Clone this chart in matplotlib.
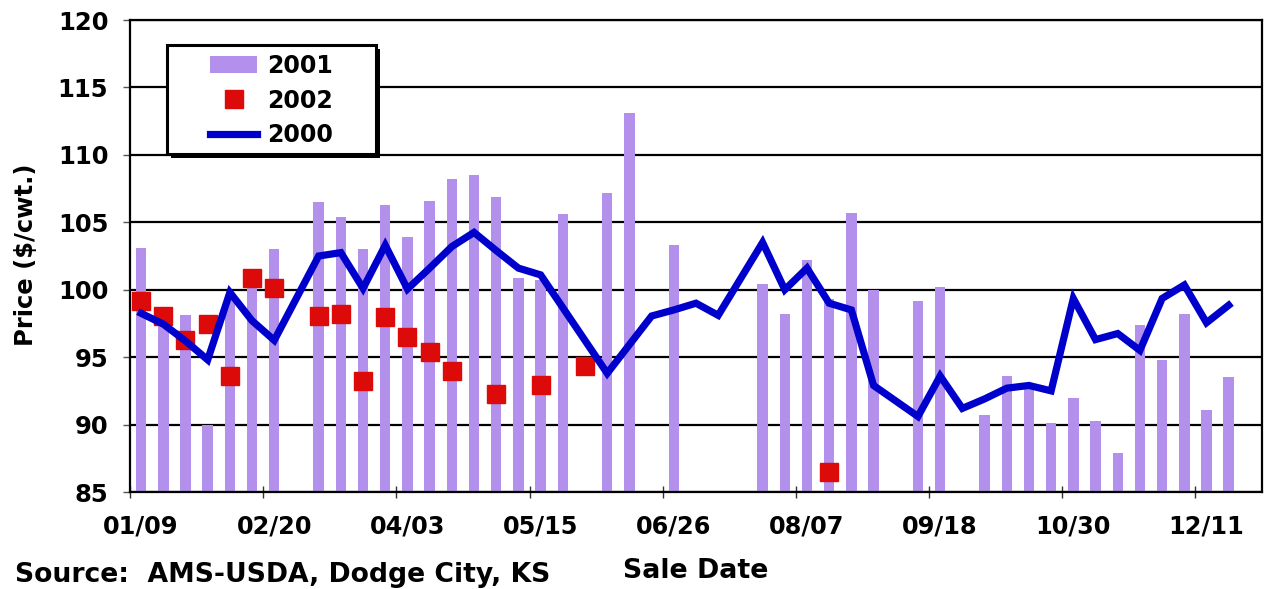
import numpy as np
import matplotlib
matplotlib.use("Agg")
import matplotlib.pyplot as plt
from matplotlib.patches import Patch, Rectangle
from matplotlib.lines import Line2D

nan = np.nan

# ---- data (weekly sale dates, 51 categories) ----
tick_labels = ["01/09", "02/20", "04/03", "05/15", "06/26", "08/07", "09/18", "10/30", "12/11"]

price_2001 = [103.1, 97.5, 98.1, 90.0, 99.6, 100.6, 103.0, nan, 106.5, 105.4,
              103.0, 106.3, 103.9, 106.6, 108.2, 108.5, 106.9, 100.9, 100.7, 105.6,
              nan, 107.2, 113.1, nan, 103.3, nan, nan, nan, 100.4, 98.2,
              102.2, 99.3, 105.7, 100.0, nan, 99.2, 100.2, nan, 90.7, 93.6,
              92.7, 90.1, 92.0, 90.3, 87.9, 97.4, 94.8, 98.2, 91.1, 93.5,
              nan]

price_2002 = [99.2, 98.05, 96.25, 97.45, 93.6, 100.85, 100.1, nan, 98.05, 98.2,
              93.2, 98.0, 96.5, 95.4, 94.0, nan, 92.25, nan, 92.95, nan,
              94.35, nan, nan, nan, nan, nan, nan, nan, nan, nan,
              nan, 86.5, nan, nan, nan, nan, nan, nan, nan, nan,
              nan, nan, nan, nan, nan, nan, nan, nan, nan, nan,
              nan]

price_2000 = [98.25, 97.45, 96.2, 94.8, 99.8, 97.7, 96.25, nan, 102.5, 102.75,
              100.1, 103.3, 100.05, 101.6, 103.2, 104.25, 102.9, 101.6, 101.1, nan,
              nan, 93.8, nan, 98.05, 98.5, 99.0, 98.1, nan, 103.5, 100.0,
              101.6, 99.0, 98.5, 92.9, nan, 90.6, 93.6, 91.2, 91.9, 92.7,
              92.9, 92.5, 99.35, 96.3, 96.75, 95.5, 99.35, 100.35, 97.55, 98.85,
              nan]

series_names = ["2001", "2002", "2000"]

# ---- styling ----
BAR_C = "#B290EB"
RED_C = "#DD0A0A"
BLUE_C = "#0000CC"
FONT = "DejaVu Sans"

W, H = 1265, 589
fig = plt.figure(figsize=(W / 100, H / 100), dpi=100)
ax = fig.add_axes([130 / W, 1 - 492 / H, (1262 - 130) / W, (492 - 20) / H])

n = len(price_2001)
x = np.arange(n)
y01 = np.array(price_2001, dtype=float)
y02 = np.array(price_2002, dtype=float)
y00 = np.array(price_2000, dtype=float)

ax.bar(x, np.nan_to_num(y01, nan=0.0), width=0.47, color=BAR_C, zorder=2)
m00 = ~np.isnan(y00)
ax.plot(x[m00], y00[m00], color=BLUE_C, lw=5.2, zorder=4, solid_joinstyle="miter")
m02 = ~np.isnan(y02)
ax.plot(x[m02], y02[m02], ls="none", marker="s", markersize=12.5,
        color=RED_C, zorder=3)

ax.set_xlim(-0.5, n - 0.5)
ax.set_ylim(85, 120)
ax.set_yticks(np.arange(85, 121, 5))
ax.yaxis.grid(True, color="black", lw=1.6, zorder=0)
ax.set_axisbelow(True)

for s in ["left", "bottom", "right", "top"]:
    ax.spines[s].set_color("black")
    ax.spines[s].set_linewidth(1.6)

# x ticks: marks at category boundaries, labels centred on categories
ax.set_xticks(np.arange(-0.5, n, 6))
ax.set_xticklabels([])
ax.set_xticks(np.arange(0, n, 6)[:len(tick_labels)], minor=True)
ax.set_xticklabels(tick_labels, minor=True, fontsize=17.3, fontweight="bold",
                   family=FONT)
ax.tick_params(axis="x", which="major", direction="inout", length=8.6, width=1,
               color="#333333")
ax.tick_params(axis="x", which="minor", length=0, pad=16)
ax.tick_params(axis="y", direction="out", length=5, width=1, color="#555555",
               pad=10.6, labelsize=17.5)
for lab in ax.get_yticklabels():
    lab.set_fontweight("bold")
    lab.set_family(FONT)

ax.set_xlabel("Sale Date", fontsize=19.3, fontweight="bold", family=FONT,
              labelpad=14.5)
fig.text(26 / W, 1 - 255 / H, "Price ($/cwt.)", rotation=90, ha="center",
         va="center", fontsize=17.5, fontweight="bold", family=FONT)
fig.text(15 / W, 1 - 582 / H, "Source:  AMS-USDA, Dodge City, KS",
         ha="left", va="baseline", fontsize=19.2, fontweight="bold", family=FONT)

# legend with Excel-like boxed frame and hard shadow
ax.add_patch(Rectangle((171 / W, 1 - 158 / H), (376 - 167) / W, (154 - 45) / H,
                       transform=fig.transFigure, facecolor="black",
                       edgecolor="none", clip_on=False, zorder=6))
ax.add_patch(Rectangle((167 / W, 1 - 154 / H), (376 - 167) / W, (154 - 45) / H,
                       transform=fig.transFigure, facecolor="white",
                       edgecolor="black", lw=2.2, clip_on=False, zorder=6.5))
handles = [Patch(facecolor=BAR_C, edgecolor="none"),
           Line2D([], [], ls="none", marker="s", markersize=12.5, color=RED_C),
           Line2D([], [], color=BLUE_C, lw=5.2)]
leg = ax.legend(handles, series_names, loc="upper left",
                bbox_to_anchor=(210 / W, 1 - 54 / H),
                bbox_transform=fig.transFigure, frameon=False, borderpad=0,
                borderaxespad=0, handlelength=2.0, handletextpad=0.4,
                labelspacing=0.45, prop={"family": FONT, "weight": "bold",
                                         "size": 17})
leg.set_zorder(7)

fig.savefig("out.png", dpi=100)
